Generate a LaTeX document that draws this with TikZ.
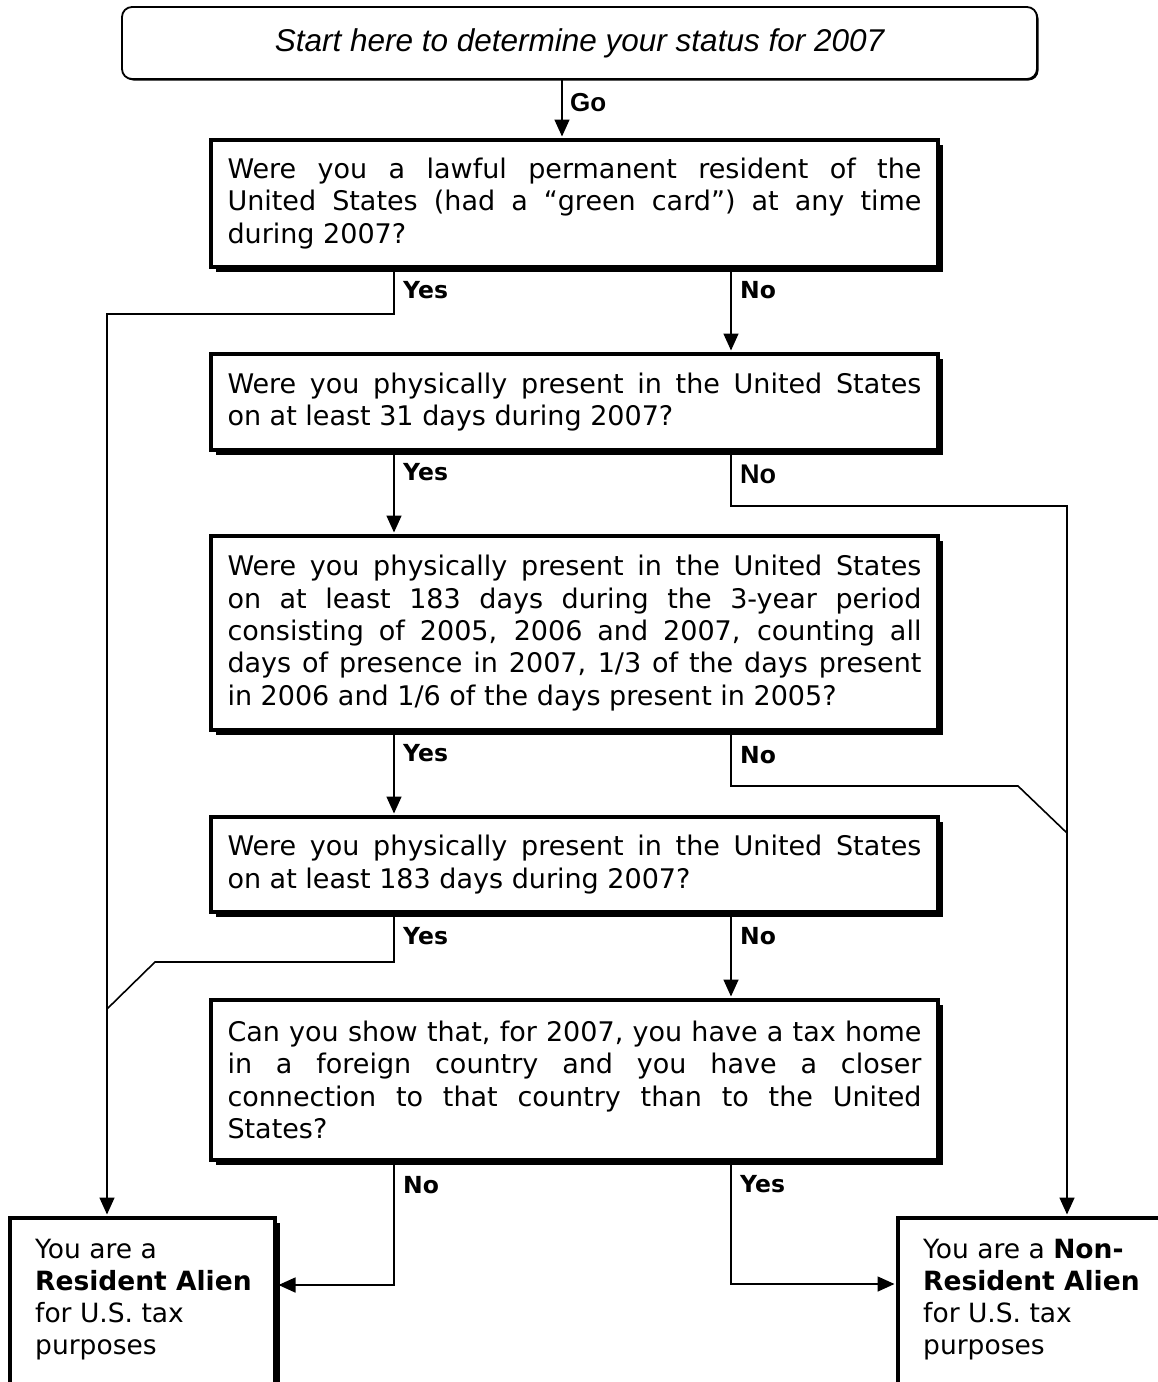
\documentclass[tikz,border=0pt]{standalone}
\usepackage{fontspec}
\setmainfont{DejaVu Sans}
\newfontfamily\arialf{Liberation Sans}
\usetikzlibrary{arrows.meta,shadows}
\newcommand\myqfont{\fontsize{27pt}{32.3pt}\selectfont}
\newcommand\mylfont{\fontsize{23.5pt}{28pt}\selectfont\bfseries}
\begin{document}
\begin{tikzpicture}[x=1pt,y=-1pt,
  qbox/.style={draw, line width=4pt, fill=white, rectangle, text width=694pt,
    inner xsep=16.5pt, inner ysep=0pt, align=justify, font=\myqfont,
    drop shadow={shadow xshift=5pt, shadow yshift=-5pt, fill=black, opacity=1}},
  tbox/.style={draw, line width=4pt, fill=white, rectangle, inner sep=0pt,
    minimum height=250pt,
    drop shadow={shadow xshift=5pt, shadow yshift=-5pt, fill=black, opacity=1}},
  ttext/.style={anchor=north west, inner sep=0pt, align=left, font=\myqfont},
  lbl/.style={anchor=west, inner sep=0pt, font=\mylfont},
  ln/.style={line width=1.6pt, line join=miter},
  arr/.style={ln, -{Triangle[length=17pt,width=15pt]}, shorten >=1.5pt}]
\useasboundingbox (0,0) rectangle (1158,1382);
\clip (0,0) rectangle (1158,1382);

% start box
\node[draw, line width=1.8pt, rounded corners=10pt, minimum width=915pt, minimum height=72pt,
  inner sep=0pt, font=\fontsize{31.5pt}{35pt}\selectfont\arialf\itshape,
  drop shadow={shadow xshift=1.5pt, shadow yshift=-1.5pt, fill=black, opacity=1}, fill=white]
  (st) at (579.5,43) {Start here to determine your status for 2007};

% question boxes
\node[qbox, minimum height=127pt] (b1) at (574.5,203.5)
  {Were you a lawful permanent resident of the\linebreak United States (had a “green card”) at any time\linebreak during 2007?};
\node[qbox, minimum height=96pt] (b2) at (574.5,402)
  {Were you physically present in the United States\linebreak on at least 31 days during 2007?};
\node[qbox, minimum height=194pt] (b3) at (574.5,633)
  {Were you physically present in the United States\linebreak on at least 183 days during the 3-year period\linebreak consisting of 2005, 2006 and 2007, counting all\linebreak days of presence in 2007, 1/3 of the days present\linebreak in 2006 and 1/6 of the days present in 2005?};
\node[qbox, minimum height=95pt] (b4) at (574.5,864.5)
  {Were you physically present in the United States\linebreak on at least 183 days during 2007?};
\node[qbox, minimum height=160pt] (b5) at (574.5,1080)
  {Can you show that, for 2007, you have a tax home\linebreak in a foreign country and you have a closer\linebreak connection to that country than to the United\linebreak States?};

% terminal boxes
\node[tbox, minimum width=265pt] (res) at (142.5,1343) {};
\node[tbox, minimum width=272pt] (nres) at (1034,1343) {};
\node[ttext, font=\fontsize{26.5pt}{32.3pt}\selectfont] (rest) at (35,1238.5) {You are a\\\textbf{Resident Alien}\\for U.S. tax\\purposes};
\node[ttext, font=\fontsize{26.5pt}{32.3pt}\selectfont] (nrest) at (923,1238.5) {You are a \textbf{Non-}\\\textbf{Resident Alien}\\for U.S. tax\\purposes};

% helper coordinates
\coordinate (gx) at (562,0);
\coordinate (cy) at (394,0);
\coordinate (cn) at (731,0);
\coordinate (t1) at (107,314);
\coordinate (t2) at (1067,506);
\coordinate (t3) at (1018,786);
\coordinate (j1) at (1067,833);
\coordinate (t4) at (155,962);
\coordinate (j2) at (107,1009);
\coordinate (t5) at (394,1285);
\coordinate (t6) at (731,1284);

% connectors
\draw[arr] (st.south -| gx) -- (b1.north -| gx);
\draw[arr] (b1.south -| cy) |- (t1) -- (res.north -| t1);
\draw[arr] (b1.south -| cn) -- (b2.north -| cn);
\draw[arr] (b2.south -| cy) -- (b3.north -| cy);
\draw[arr] (b2.south -| cn) |- (t2) -- (nres.north -| t2);
\draw[arr] (b3.south -| cy) -- (b4.north -| cy);
\draw[ln] (b3.south -| cn) |- (t3) -- (j1);
\draw[ln] (b4.south -| cy) |- (t4) -- (j2);
\draw[arr] (b4.south -| cn) -- (b5.north -| cn);
\draw[arr] (b5.south -| cy) -- (t5) -- (res.east |- t5);
\draw[arr] (b5.south -| cn) -- (t6) -- (nres.west |- t6);

% labels
\node[lbl, font=\fontsize{26pt}{30pt}\selectfont\arialf\bfseries] (lgo) at (570,103) {Go};
\node[lbl] (ly1) at (403,290) {Yes};
\node[lbl] (ln1) at (740,290) {No};
\node[lbl] (ly2) at (403,472) {Yes};
\node[lbl, font=\fontsize{27pt}{30pt}\selectfont\arialf\bfseries] (ln2) at (740,474) {No};
\node[lbl] (ly3) at (403,753) {Yes};
\node[lbl] (ln3) at (740,755) {No};
\node[lbl] (ly4) at (403,936) {Yes};
\node[lbl] (ln4) at (740,936) {No};
\node[lbl] (ln5) at (403,1185) {No};
\node[lbl] (ly5) at (740,1184) {Yes};
\end{tikzpicture}
\end{document}
